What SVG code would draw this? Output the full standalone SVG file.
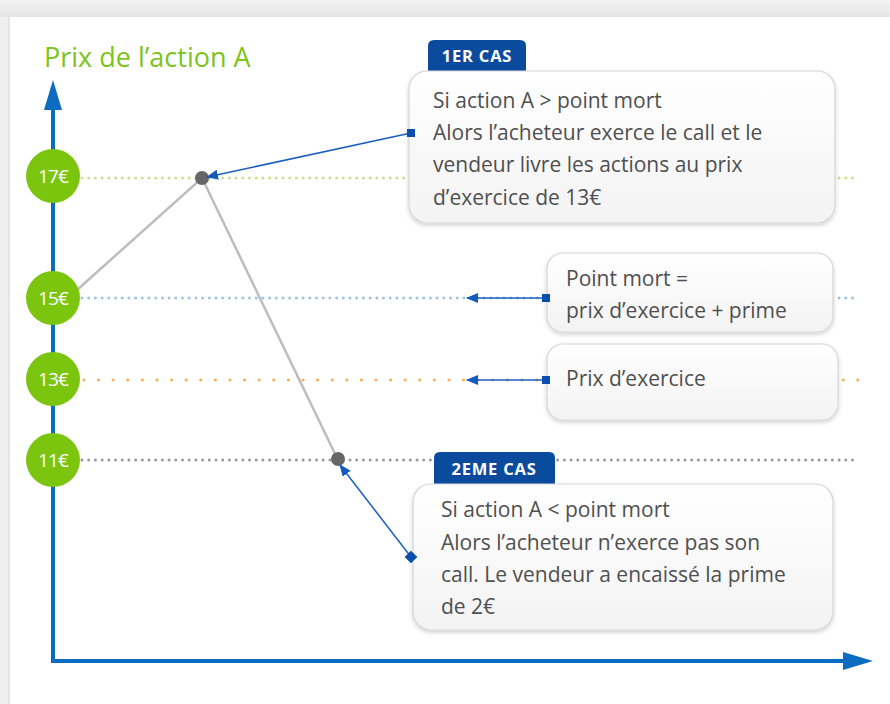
<svg xmlns="http://www.w3.org/2000/svg" width="890" height="704" viewBox="0 0 890 704">
<defs>
<linearGradient id="topband" x1="0" y1="0" x2="0" y2="1"><stop offset="0" stop-color="#f3f3f3"/><stop offset="1" stop-color="#e6e6e6"/></linearGradient>
<linearGradient id="boxfill" x1="0" y1="0" x2="0" y2="1"><stop offset="0" stop-color="#ffffff"/><stop offset="1" stop-color="#f3f3f3"/></linearGradient>
<filter id="shadow" x="-5%" y="-10%" width="110%" height="125%"><feDropShadow dx="0" dy="2" stdDeviation="2" flood-color="#000" flood-opacity="0.18"/></filter>
<marker id="arrow" viewBox="0 0 12 10" refX="11" refY="5" markerWidth="12" markerHeight="10" markerUnits="userSpaceOnUse" orient="auto"><path d="M0,0 L12,5 L0,10 Z" fill="#1459bd"/></marker>
<marker id="sq" viewBox="0 0 8 8" refX="4" refY="4" markerWidth="8" markerHeight="8" markerUnits="userSpaceOnUse" orient="0"><rect width="8" height="8" fill="#0b4fae"/></marker>
<marker id="dia" viewBox="0 0 8 8" refX="4" refY="4" markerWidth="9" markerHeight="9" markerUnits="userSpaceOnUse" orient="45"><rect width="8" height="8" fill="#0b4fae"/></marker>
</defs>
<style>
.box{fill:url(#boxfill);stroke:#d6d6d6;stroke-width:1.2;filter:url(#shadow)}
.txt{font-family:"Open Sans",Lato,sans-serif;font-size:21px;fill:#4f4f4f}
.tab{fill:#0b4b9e}
.tabtxt{font-family:"Open Sans",Lato,sans-serif;font-size:16.5px;font-weight:bold;fill:#fff;text-anchor:middle;letter-spacing:0.8px}
.lvl{fill:#7cc50f}
.lvltxt{font-family:"Open Sans",Lato,sans-serif;font-size:19px;fill:#fff;text-anchor:middle;letter-spacing:-0.8px}
.conn{stroke:#1a5fbf;stroke-width:1.5;fill:none}
.dot{fill:none;stroke-linecap:round}
</style>
<rect width="890" height="704" fill="#ffffff"/>
<rect x="0" y="0" width="890" height="17" fill="url(#topband)"/>
<rect x="0" y="17" width="10" height="687" fill="#efefef"/>
<rect x="8" y="17" width="2" height="687" fill="#e4e4e4"/>
<text x="44" y="67" font-family="'Open Sans',Lato,sans-serif" font-size="27" fill="#7dc41c">Prix de l’action A</text>
<g id="gridlines">
<line class="dot" x1="82" y1="178" x2="858" y2="178" stroke="#c9e08e" stroke-width="3" stroke-dasharray="0 6.7"/>
<line class="dot" x1="82" y1="298" x2="858" y2="298" stroke="#9fc3e6" stroke-width="3" stroke-dasharray="0 6.7"/>
<line class="dot" x1="84" y1="380" x2="862" y2="380" stroke="#f5b15e" stroke-width="3.2" stroke-dasharray="0 14.6"/>
<line class="dot" x1="82" y1="460" x2="858" y2="460" stroke="#999999" stroke-width="3" stroke-dasharray="0 6.7"/>
</g>
<g id="axes">
<line x1="53" y1="663" x2="53" y2="104" stroke="#0b6cc0" stroke-width="4"/>
<path d="M53,80 L62,110 L44,110 Z" fill="#0b6cc0"/>
<line x1="51" y1="661" x2="846" y2="661" stroke="#0b6cc0" stroke-width="4"/>
<path d="M873,661 L843,652 L843,670 Z" fill="#0b6cc0"/>
</g>
<g id="price-line">
<polyline points="77,290 202,178 338,460" fill="none" stroke="#bdbdbd" stroke-width="2.5"/>
<circle cx="202" cy="178" r="7" fill="#666"/>
<circle cx="338" cy="459" r="7" fill="#666"/>
</g>
<g id="level-17"><circle class="lvl" cx="53" cy="176" r="27"/><text class="lvltxt" x="53" y="182.5">17€</text></g>
<g id="level-15"><circle class="lvl" cx="53" cy="298" r="27"/><text class="lvltxt" x="53" y="304.5">15€</text></g>
<g id="level-13"><circle class="lvl" cx="53" cy="379" r="27"/><text class="lvltxt" x="53" y="385.5">13€</text></g>
<g id="level-11"><circle class="lvl" cx="53" cy="460" r="27"/><text class="lvltxt" x="53" y="466.5">11€</text></g>
<g id="case1">
<path class="tab" d="M428,72 L428,46 Q428,40 434,40 L520,40 Q526,40 526,46 L526,72 Z"/>
<text class="tabtxt" x="477" y="62">1ER CAS</text>
<rect class="box" x="409" y="71" width="426" height="152" rx="18"/>
<text class="txt" x="433" y="108">Si action A &gt; point mort</text>
<text class="txt" x="433" y="140">Alors l’acheteur exerce le call et le</text>
<text class="txt" x="433" y="172">vendeur livre les actions au prix</text>
<text class="txt" x="433" y="205">d’exercice de 13€</text>
</g>
<g id="breakeven">
<rect class="box" x="547" y="253" width="286" height="79" rx="16"/>
<text class="txt" x="566" y="286">Point mort =</text>
<text class="txt" x="566" y="318">prix d’exercice + prime</text>
</g>
<g id="strike">
<rect class="box" x="547" y="344" width="291" height="76" rx="16"/>
<text class="txt" x="566" y="386">Prix d’exercice</text>
</g>
<g id="case2">
<path class="tab" d="M434,486 L434,458 Q434,452 440,452 L549,452 Q555,452 555,458 L555,486 Z"/>
<text class="tabtxt" x="494" y="475">2EME CAS</text>
<rect class="box" x="413" y="484" width="420" height="146" rx="18"/>
<text class="txt" x="441" y="517">Si action A  &lt; point mort</text>
<text class="txt" x="441" y="550">Alors l’acheteur n’exerce pas son</text>
<text class="txt" x="441" y="582">call. Le vendeur a encaissé la prime</text>
<text class="txt" x="441" y="614">de 2€</text>
</g>
<g id="connectors">
<line class="conn" x1="411" y1="133" x2="207" y2="177" marker-start="url(#sq)" marker-end="url(#arrow)"/>
<line class="conn" x1="546" y1="298" x2="467" y2="298" marker-start="url(#sq)" marker-end="url(#arrow)"/>
<line class="conn" x1="546" y1="380" x2="467" y2="380" marker-start="url(#sq)" marker-end="url(#arrow)"/>
<line class="conn" x1="411" y1="557" x2="340" y2="465" marker-start="url(#dia)" marker-end="url(#arrow)"/>
</g>
</svg>
